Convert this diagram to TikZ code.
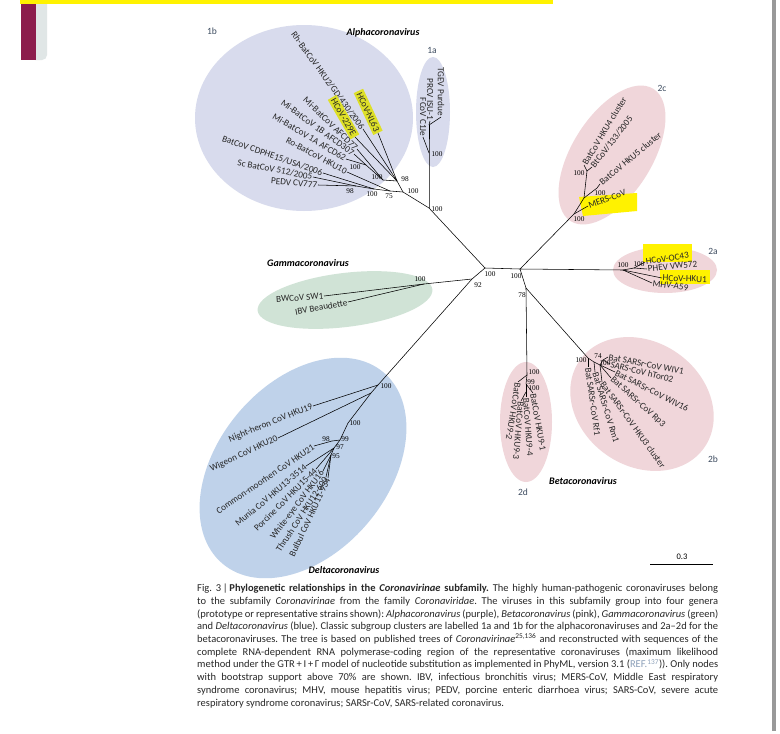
\documentclass[tikz,border=0pt]{standalone}
\usepackage{fontspec}
\setmainfont{Carlito}
\newfontfamily\bsfont{Liberation Serif}
\usetikzlibrary{positioning}
\frenchspacing

\definecolor{alphafill}{RGB}{216,219,237}
\definecolor{betafill}{RGB}{240,214,218}
\definecolor{gammafill}{RGB}{208,227,214}
\definecolor{deltafill}{RGB}{191,210,234}
\definecolor{hlolive}{RGB}{222,224,40}
\definecolor{hlyellow}{RGB}{255,242,0}
\definecolor{subgrp}{RGB}{60,75,95}
\definecolor{captxt}{RGB}{40,40,40}
\definecolor{refgrey}{RGB}{140,160,185}
\definecolor{barred}{RGB}{140,28,76}
\definecolor{bargrey}{RGB}{224,230,230}

\newcommand{\capline}[1]{\makebox[521pt][s]{#1}}

\tikzset{
  br/.style={line width=0.55pt},
  tip/.style={font=\fontsize{9.2}{10}\selectfont, inner sep=0.6pt, text=black!85},
  tipL/.style={tip, anchor=east},
  tipR/.style={tip, anchor=west},
  hlA/.style={fill=hlolive, inner sep=2pt},
  bs/.style={font=\bsfont\fontsize{7.3}{8}\selectfont, inner sep=0pt},
  genus/.style={font=\bfseries\itshape\fontsize{10}{11}\selectfont},
  subg/.style={font=\fontsize{9.5}{10}\selectfont, text=subgrp},
}

\begin{document}
\begin{tikzpicture}[x=1pt,y=-1pt]
\useasboundingbox (0,0) rectangle (780,734);
\fill[white] (0,0) rectangle (780,734);

% page edge
\fill[bargrey, rounded corners=5pt] (30,-5) rectangle (47,60);
\fill[barred] (21,0) rectangle (36,60);
\fill[hlyellow] (20,0) rectangle (553,3.5);
\fill[black!40] (772,0) rectangle (776,731);

% clade ellipses
\fill[alphafill] (304,118) ellipse [x radius=109pt, y radius=93pt];
\fill[alphafill] (433,112) ellipse [x radius=17pt, y radius=55pt];
\fill[betafill, rotate around={58:(612,155)}] (612,155) ellipse [x radius=78pt, y radius=40pt];
\fill[betafill] (665,270) ellipse [x radius=52pt, y radius=23pt];
\fill[betafill, rotate around={-35:(642,404)}] (642,404) ellipse [x radius=76pt, y radius=62pt];
\fill[betafill] (526,422) ellipse [x radius=26pt, y radius=60pt];
\fill[gammafill, rotate around={7:(345,300)}] (345,300) ellipse [x radius=88pt, y radius=27pt];
\fill[deltafill, rotate around={50:(303,468)}] (303,468) ellipse [x radius=125pt, y radius=85pt];

% highlights
\fill[hlyellow] (579,197) -- (637,193) -- (637,211) -- (583,216) -- cycle;
\fill[hlyellow] (643,244) rectangle (692,262);
\fill[hlyellow] (660,270) rectangle (710,284);

% genus and subgroup labels
\node[genus] (alpha) at (383,33) {Alphacoronavirus};
\node[genus] (gamma) at (308,263) {Gammacoronavirus};
\node[genus] (beta) at (583,481) {Betacoronavirus};
\node[genus] (delta) at (344,570) {Deltacoronavirus};
\node[subg] (s1b) at (212,31) {1b};
\node[subg] (s1a) at (432,50) {1a};
\node[subg] (s2c) at (662,88) {2c};
\node[subg] (s2a) at (713,251) {2a};
\node[subg] (s2b) at (713,459) {2b};
\node[subg] (s2d) at (523,492) {2d};

% inner nodes
\coordinate (ra) at (485,268);
\coordinate (rb) at (472,279);
\coordinate (a0) at (429,208);
\coordinate (a1) at (429,153);
\coordinate (a2) at (429,125);
\coordinate (b0) at (403,192);
\coordinate (b1) at (397,181);
\coordinate (b2) at (390,191);
\coordinate (b3) at (374,189);
\coordinate (b4) at (356,186);
\coordinate (b5) at (366,165);
\coordinate (b6) at (383,180);
\coordinate (g0) at (424,284);
\coordinate (d0) at (378,385);
\coordinate (d1) at (371,393);
\coordinate (d2) at (348,423);
\coordinate (d3) at (340,440);
\coordinate (d4) at (332,441);
\coordinate (d5) at (334,448);
\coordinate (d6) at (331,455);
\coordinate (be) at (520,269);
\coordinate (c0) at (574,214);
\coordinate (c1) at (584,198);
\coordinate (c2) at (587,171);
\coordinate (c3) at (597,188);
\coordinate (p0) at (623,270);
\coordinate (p1) at (634,268);
\coordinate (q0) at (526,288);
\coordinate (k0) at (527,375);
\coordinate (k1) at (526,384);
\coordinate (k2) at (526,392);
\coordinate (s0) at (588,358);
\coordinate (s1) at (594,362);
\coordinate (s2) at (600,365);
\coordinate (s3) at (603,360);

% bootstrap values
\node[bs] (v-ra) at (490,274) {100};
\node[bs] (v-rb) at (478,285) {92};
\node[bs] (v-a0) at (437,209) {100};
\node[bs] (v-a1) at (437,154) {100};
\node[bs] (v-b0) at (413,191) {100};
\node[bs] (v-b1) at (405,179) {98};
\node[bs] (v-b2) at (389,196) {75};
\node[bs] (v-b3) at (372,194) {100};
\node[bs] (v-b4) at (350,191) {98};
\node[bs] (v-b5) at (355,167) {100};
\node[bs] (v-b6) at (377,177) {100};
\node[bs] (v-g0) at (420,279) {100};
\node[bs] (v-d0) at (386,386) {100};
\node[bs] (v-d2) at (355,423) {100};
\node[bs] (v-d3) at (345,439) {99};
\node[bs] (v-d4) at (326,439) {98};
\node[bs] (v-d5) at (340,447) {97};
\node[bs] (v-d6) at (336,456) {95};
\node[bs] (v-be) at (516,276) {100};
\node[bs] (v-q0) at (522,295) {78};
\node[bs] (v-c0) at (579,219) {100};
\node[bs] (v-c2) at (579,173) {100};
\node[bs] (v-c3) at (600,193) {100};
\node[bs] (v-p0) at (623,265) {100};
\node[bs] (v-p1) at (639,264) {100};
\node[bs] (v-k0) at (534,372) {100};
\node[bs] (v-k1) at (531,382) {99};
\node[bs] (v-k2) at (534,388) {100};
\node[bs] (v-s0) at (581,360) {100};
\node[bs] (v-s3) at (598,356) {74};
\node[bs] (v-s2) at (605,363) {100};

% Alphacoronavirus tips
\node[tipL, rotate=-54] (rh) at (363,129) {Rh-BatCoV HKU2/GD/430/2006};
\node[tipL, hlA, rotate=-65] (nl63) at (378,133) {HCoV-NL63};
\node[tipL, hlA, rotate=-60] (e229) at (355,137) {HCoV-229E};
\node[tipL, rotate=-44] (mi77) at (357,149) {Mi-BatCoV AFCD77};
\node[tipL, rotate=-36] (mi1b) at (354,154) {Mi-BatCoV 1B AFCD307};
\node[tipL, rotate=-31] (mi1a) at (346,159) {Mi-BatCoV 1A AFCD62};
\node[tipL, rotate=-28] (ro) at (347,172) {Ro-BatCoV HKU10};
\node[tipL, rotate=-19] (cdphe) at (323,173) {BatCoV CDPHE15/USA/2006};
\node[tipL, rotate=-11] (sc) at (313,177) {Sc BatCoV 512/2005};
\node[tipL, rotate=-5] (pedv) at (318,185) {PEDV CV777};
\node[tipL, rotate=-90] (tgev) at (441,117) {TGEV Purdue};
\node[tipL, rotate=-90] (prcv) at (430,121) {PRCV ISU-1};
\node[tipL, rotate=-90] (fcov) at (423,137) {FCoV C1Je};

% Gammacoronavirus tips
\node[tipL, rotate=4] (bwcov) at (324,296) {BWCoV SW1};
\node[tipL, rotate=11] (ibv) at (348,302) {IBV Beaudette};

% Deltacoronavirus tips
\node[tipL, rotate=22] (heron) at (313,406) {Night-heron CoV HKU19};
\node[tipL, rotate=25] (wigeon) at (278,438) {Wigeon CoV HKU20};
\node[tipL, rotate=34] (moorhen) at (314,446) {Common-moorhen CoV HKU21};
\node[tipL, rotate=40] (munia) at (306,466) {Munia CoV HKU13-3514};
\node[tipL, rotate=45] (porcine) at (316,469) {Porcine CoV HKU15-44};
\node[tipL, rotate=53] (whiteeye) at (323,471) {White-eye CoV HKU16};
\node[tipL, rotate=57] (thrush) at (326,477) {Thrush CoV HKU12-600};
\node[tipL, rotate=65] (bulbul) at (328,478) {Bulbul CoV HKU11-934};

% Betacoronavirus tips
\node[tipR, rotate=20] (mers) at (588,206) {MERS-CoV};
\node[tipR, rotate=40] (hku5) at (600,184) {BatCoV HKU5 cluster};
\node[tipR, rotate=59] (hku4) at (584,165) {BatCoV HKU4 cluster};
\node[tipR, rotate=52] (bt133) at (592,167) {BtCoV/133/2005};
\node[tipR, rotate=9] (oc43) at (645,262) {HCoV-OC43};
\node[tipR, rotate=6] (phev) at (647,269) {PHEV VW572};
\node[tipR, rotate=-2] (hku1) at (662,278) {HCoV-HKU1};
\node[tipR, rotate=-8] (mhv) at (652,283) {MHV-A59};
\node[tipR, rotate=-11] (wiv1) at (608,357) {Bat SARSr-CoV WIV1};
\node[tipR, rotate=-14] (htor) at (610,364) {SARS-CoV hTor02};
\node[tipR, rotate=-27] (wiv16) at (615,372) {Bat SARSr-CoV WIV16};
\node[tipR, rotate=-42] (rp3) at (611,378) {Bat SARSr-CoV Rp3};
\node[tipR, rotate=-54] (hku3) at (602,382) {Bat SARSr-CoV HKU3 cluster};
\node[tipR, rotate=-73] (rm1) at (595,372) {Bat SARSr-CoV Rm1};
\node[tipR, rotate=-82] (rf1) at (588,367) {Bat SARSr-CoV Rf1};
\node[tipR, rotate=-80] (hku91) at (533,393) {BatCoV HKU9-1};
\node[tipR, rotate=-86] (hku94) at (526,397) {BatCoV HKU9-4};
\node[tipR, rotate=-95] (hku93) at (521,401) {BatCoV HKU9-3};
\node[tipR, rotate=-99] (hku92) at (518,382) {BatCoV HKU9-2};

% branches: backbone
\draw[br] (ra) -- (rb);
\draw[br] (ra) -- (a0);
\draw[br] (ra) -- (be);
\draw[br] (rb) -- (g0);
\draw[br] (rb) -- (d0);
% alpha
\draw[br] (a0) -- (a1) -- (a2);
\draw[br] (a2) -- (tgev.east);
\draw[br] (a2) -- (prcv.east);
\draw[br] (a1) -- (fcov.east);
\draw[br] (a0) -- (b0);
\draw[br] (b0) -- (b1);
\draw[br] (b0) -- (b2);
\draw[br] (b1) -- (rh.east);
\draw[br] (b1) -- (nl63.east);
\draw[br] (b1) -- (e229.east);
\draw[br] (b1) -- (b6);
\draw[br] (b6) -- (mi77.east);
\draw[br] (b6) -- (b5);
\draw[br] (b5) -- (mi1b.east);
\draw[br] (b5) -- (mi1a.east);
\draw[br] (b2) -- (ro.east);
\draw[br] (b2) -- (b3);
\draw[br] (b3) -- (cdphe.east);
\draw[br] (b3) -- (b4);
\draw[br] (b4) -- (sc.east);
\draw[br] (b4) -- (pedv.east);
% gamma
\draw[br] (g0) -- (bwcov.east);
\draw[br] (g0) -- (ibv.east);
% delta
\draw[br] (d0) -- (heron.east);
\draw[br] (d0) -- (d1);
\draw[br] (d1) -- (wigeon.east);
\draw[br] (d1) -- (d2);
\draw[br] (d2) -- (d3);
\draw[br] (d3) -- (d4);
\draw[br] (d4) -- (moorhen.east);
\draw[br] (d3) -- (d5);
\draw[br] (d5) -- (munia.east);
\draw[br] (d5) -- (porcine.east);
\draw[br] (d5) -- (d6);
\draw[br] (d6) -- (whiteeye.east);
\draw[br] (d6) -- (thrush.east);
\draw[br] (d6) -- (bulbul.east);
% beta
\draw[br] (be) -- (c0);
\draw[br] (c0) -- (mers.west);
\draw[br] (c0) -- (c1);
\draw[br] (c1) -- (c3);
\draw[br] (c3) -- (hku5.west);
\draw[br] (c1) -- (c2);
\draw[br] (c2) -- (hku4.west);
\draw[br] (c2) -- (bt133.west);
\draw[br] (be) -- (p0);
\draw[br] (p0) -- (p1);
\draw[br] (p1) -- (oc43.west);
\draw[br] (p1) -- (phev.west);
\draw[br] (p0) -- (hku1.west);
\draw[br] (p0) -- (mhv.west);
\draw[br] (be) -- (q0);
\draw[br] (q0) -- (k0);
\draw[br] (k0) -- (hku92.west);
\draw[br] (k0) -- (k1);
\draw[br] (k1) -- (hku91.west);
\draw[br] (k1) -- (k2);
\draw[br] (k2) -- (hku94.west);
\draw[br] (k2) -- (hku93.west);
\draw[br] (q0) -- (s0);
\draw[br] (s0) -- (rf1.west);
\draw[br] (s0) -- (s1);
\draw[br] (s1) -- (rm1.west);
\draw[br] (s1) -- (s2);
\draw[br] (s2) -- (hku3.west);
\draw[br] (s2) -- (rp3.west);
\draw[br] (s2) -- (wiv16.west);
\draw[br] (s2) -- (s3);
\draw[br] (s3) -- (wiv1.west);
\draw[br] (s3) -- (htor.west);

% scale bar
\coordinate (sb1) at (650,564);
\coordinate (sb2) at (713,564);
\draw[line width=0.6pt] (sb1) -- (sb2);
\node[font=\fontsize{8.5}{9}\selectfont] (sbl) at (682,557) {0.3};

% caption
\node[anchor=north west, align=left, inner sep=0pt, text=captxt,
      font=\fontsize{10.5}{12.7}\selectfont] (cap) at (197,584)
{\capline{Fig.~3\,|\,\textbf{Phylogenetic relationships in the \textit{Coronavirinae} subfamily.} The highly human-pathogenic coronaviruses belong}\\
\capline{to the subfamily \textit{Coronavirinae} from the family \textit{Coronaviridae}. The viruses in this subfamily group into four genera}\\
\capline{(prototype or representative strains shown): \textit{Alphacoronavirus} (purple), \textit{Betacoronavirus} (pink), \textit{Gammacoronavirus} (green)}\\
\capline{and \textit{Deltacoronavirus} (blue). Classic subgroup clusters are labelled 1a and 1b for the alphacoronaviruses and 2a–2d for the}\\
\capline{betacoronaviruses. The tree is based on published trees of \textit{Coronavirinae}\textsuperscript{25,136} and reconstructed with sequences of the}\\
\capline{complete RNA-dependent RNA polymerase-coding region of the representative coronaviruses (maximum likelihood}\\
\capline{method under the GTR\,+\,I\,+\,Γ model of nucleotide substitution as implemented in PhyML, version 3.1 ({\color{refgrey}REF.\textsuperscript{137}})). Only nodes}\\
\capline{with bootstrap support above 70\% are shown. IBV, infectious bronchitis virus; MERS-CoV, Middle East respiratory}\\
\capline{syndrome coronavirus; MHV, mouse hepatitis virus; PEDV, porcine enteric diarrhoea virus; SARS-CoV, severe acute}\\
respiratory syndrome coronavirus; SARSr-CoV, SARS-related coronavirus.};
\end{tikzpicture}
\end{document}
